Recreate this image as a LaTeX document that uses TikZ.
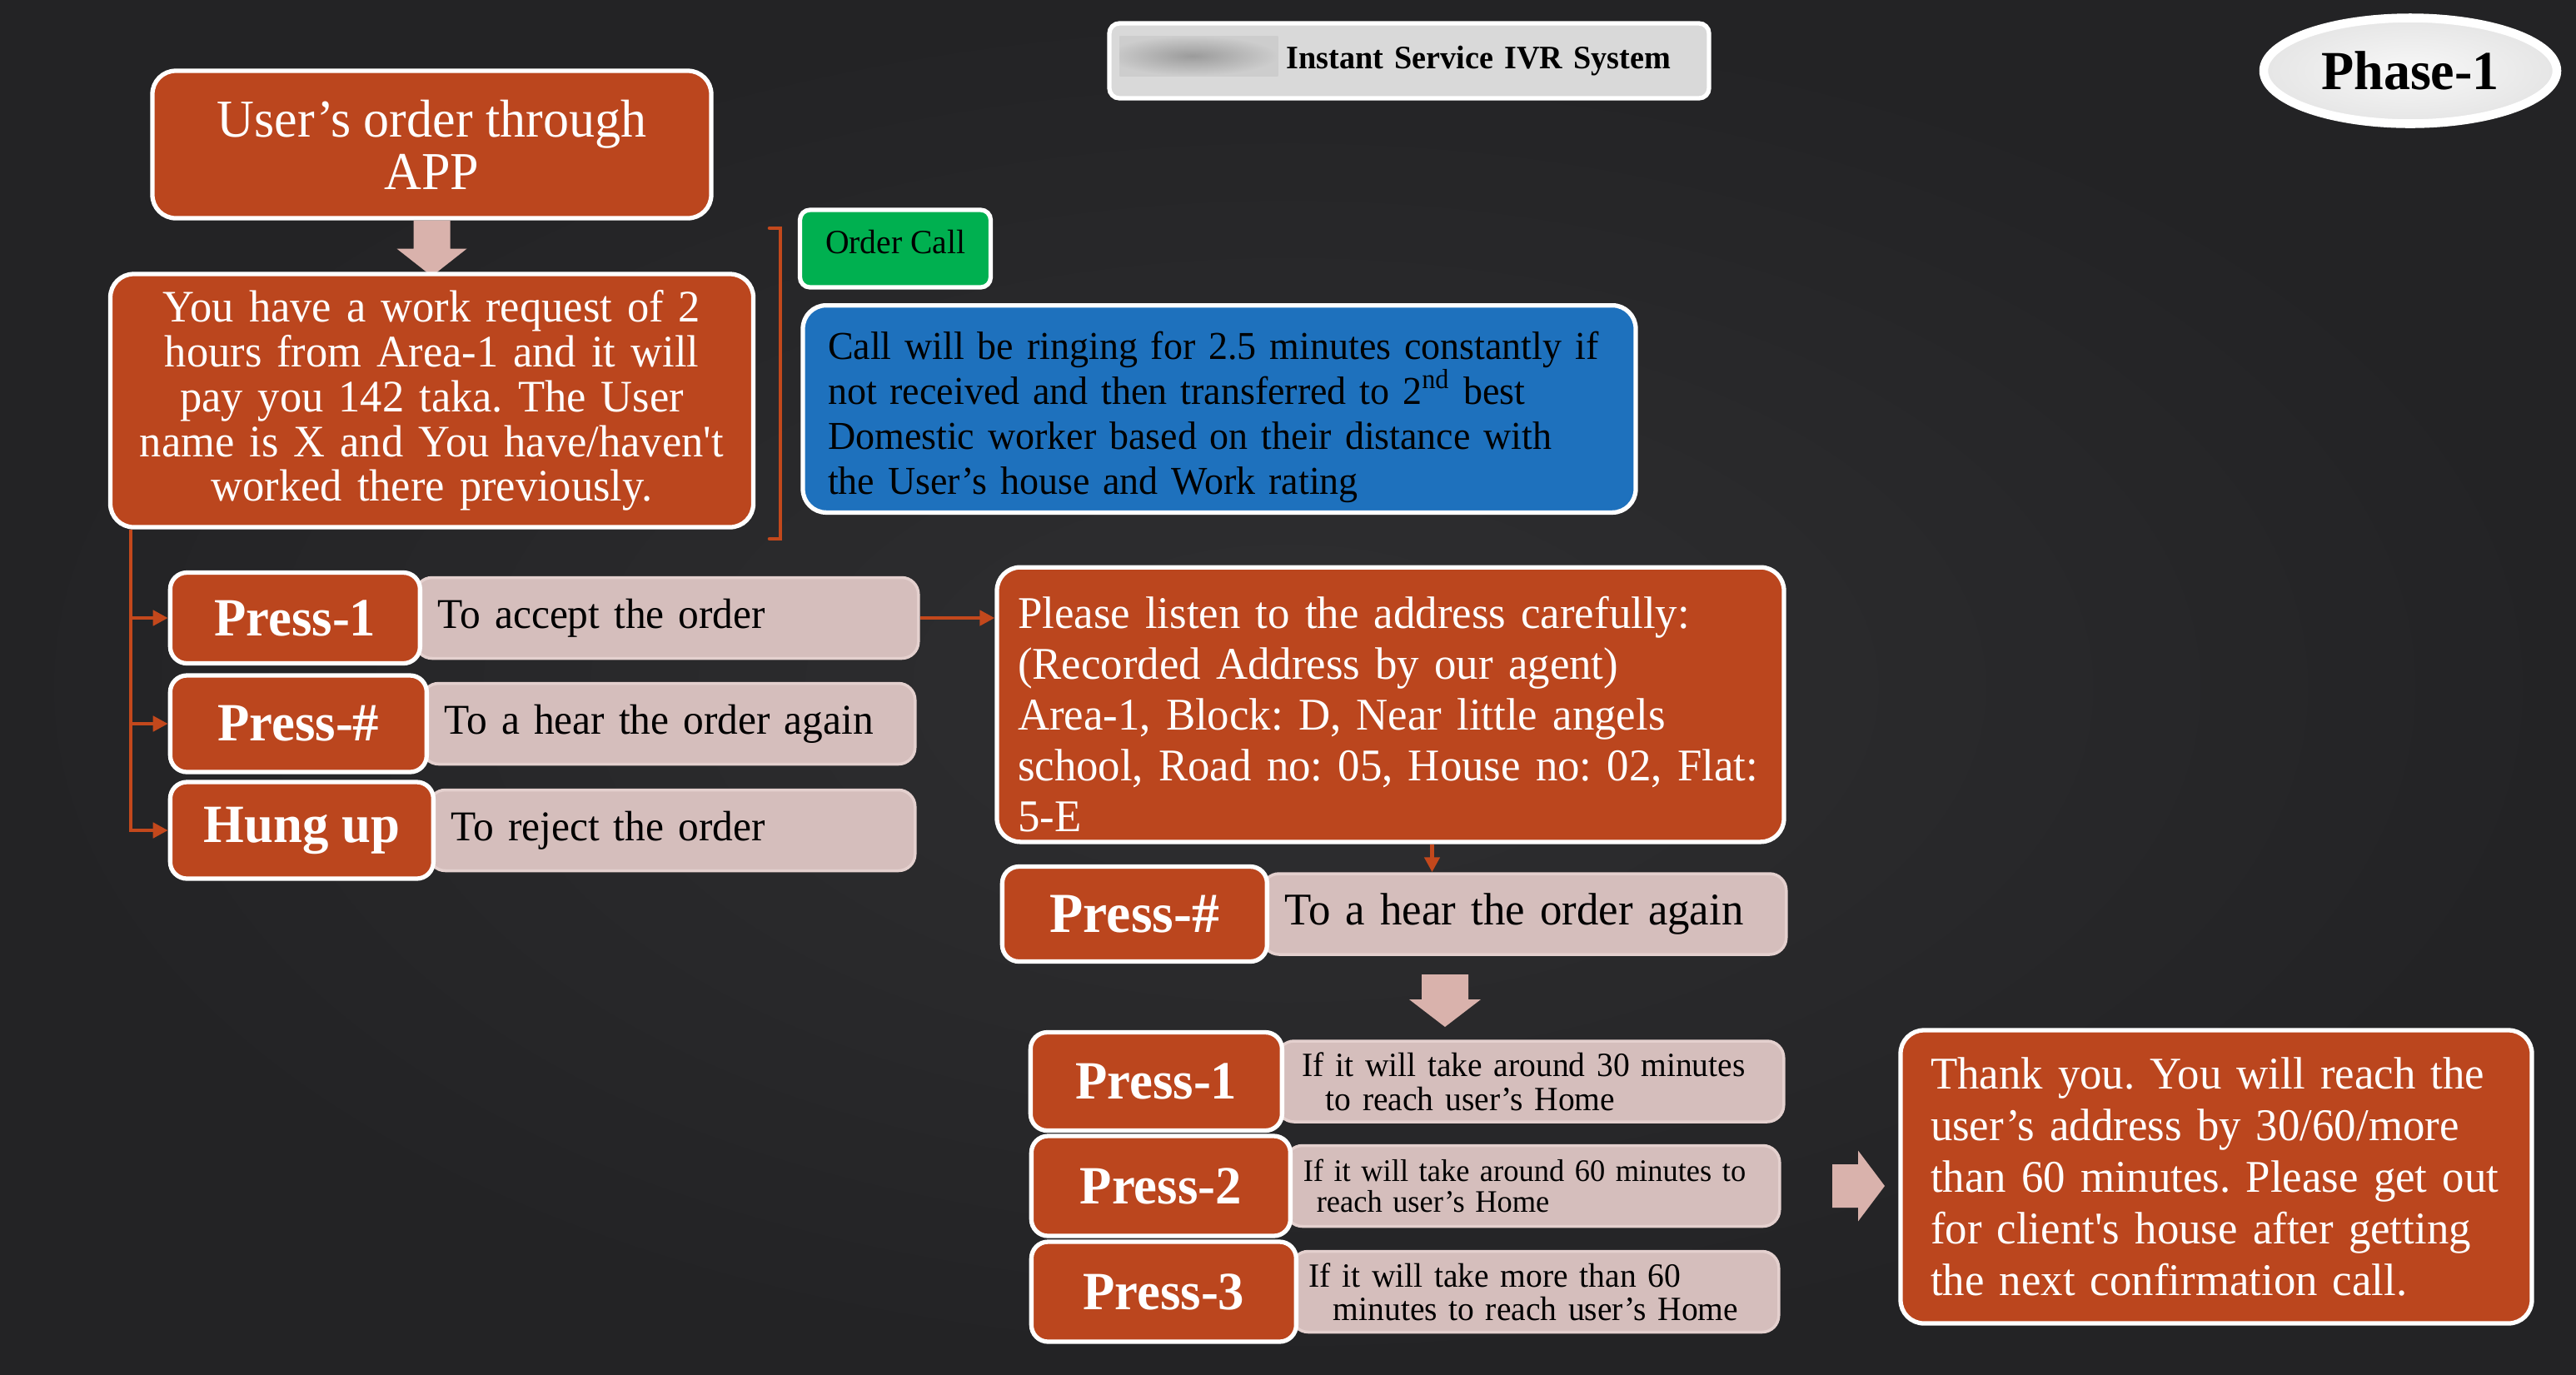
\documentclass[tikz,border=0pt]{standalone}
\usepackage{fontspec}
\setmainfont{Liberation Serif}[FakeStretch=0.97]
\usepackage{tikz}
\usetikzlibrary{arrows.meta,positioning,shapes.geometric,calc}
\definecolor{ivrbg}{RGB}{47,47,49}
\definecolor{ivrbgdark}{RGB}{35,35,37}
\definecolor{ivrorange}{RGB}{187,70,30}
\definecolor{ivrline}{RGB}{195,72,28}
\definecolor{ivrpink}{RGB}{213,190,188}
\definecolor{ivrpinkedge}{RGB}{228,208,206}
\definecolor{ivrarrow}{RGB}{217,178,172}
\definecolor{ivrgreen}{RGB}{0,176,80}
\definecolor{ivrblue}{RGB}{30,113,189}
\definecolor{ivrgray}{RGB}{217,217,217}
\definecolor{blurdark}{RGB}{155,155,155}
\definecolor{blurlight}{RGB}{205,205,205}
\newcommand{\fsz}[2]{\fontsize{#1}{#2}\selectfont}
\frenchspacing

\begin{document}
\begin{tikzpicture}[x=1cm, y=-1cm,
  orangebox/.style={draw=white, line width=1.5pt, fill=ivrorange, rounded corners=0.28cm, text=white, align=center},
  pressbox/.style={orangebox, rounded corners=0.2cm, font=\bfseries\fsz{18.4}{20}},
  pinkbox/.style={draw=ivrpinkedge, line width=1pt, fill=ivrpink, rounded corners=0.2cm, align=left, inner xsep=0.27cm, minimum height=0.97cm, anchor=west},
  conn/.style={draw=ivrline, line width=1.3pt, -{Triangle[length=1.8mm,width=1.8mm]}},
  fatarrow/.style={fill=ivrarrow}]
  % slide background
  \useasboundingbox (0,0) rectangle (30.93,16.5);
  \shade[inner color=ivrbg, outer color=ivrbgdark] (0,0) rectangle (30.93,16.5);

  % header: title bar and phase label
  \node[draw=white, line width=1.5pt, fill=ivrgray, rounded corners=0.12cm, minimum width=7.2cm, minimum height=0.9cm,
        text width=6.28cm, inner xsep=0.46cm, align=right, font=\bfseries\fsz{11.2}{13}] (title) at (16.92,0.73) {Instant Service IVR System};
  \shade[inner color=blurdark, outer color=blurlight] (title.west) ++(0.15,-0.3) rectangle ++(1.9,0.48);
  \node[ellipse, draw=white, line width=3pt, inner color=gray!6, outer color=gray!20, minimum width=3.52cm, minimum height=1.27cm,
        font=\bfseries\fsz{18.8}{20}] (phase) at (28.94,0.85) {Phase-1};

  % order from the app
  \node[orangebox, minimum width=6.71cm, minimum height=1.77cm, font=\fsz{18.2}{17.9}] (userorder) at (5.185,1.735) {User’s order through\\APP};
  \fill[fatarrow] (userorder.south) ++(-0.22,0) -- ++(0.44,0) -- ++(0,0.34) -- ++(0.2,0) -- ++(-0.42,0.33) -- ++(-0.42,-0.33) -- ++(0.2,0) -- cycle;
  \node[orangebox, minimum width=7.72cm, minimum height=3.04cm, text width=7.4cm, font=\fsz{15.4}{15.3}] (workreq) at (5.185,4.81)
    {You have a work request of 2\\hours from Area-1 and it will\\pay you 142 taka. The User\\name is X and You have/haven\textquotesingle t\\worked there previously.};

  % order call note
  \draw[ivrline, line width=1.3pt, line cap=round] (9.24,2.74) -- (9.37,2.74) -- (9.37,6.47) -- (9.24,6.47);
  \node[draw=white, line width=1.5pt, fill=ivrgreen, rounded corners=0.12cm, minimum width=2.29cm, minimum height=0.93cm,
        font=\fsz{11.6}{13}] (ordercall) at (10.75,2.985) {Order Call\rule[-4.6pt]{0pt}{4.6pt}};
  \node[draw=white, line width=1.5pt, fill=ivrblue, rounded corners=0.28cm, minimum width=10cm, minimum height=2.44cm,
        text width=9.4cm, inner xsep=0.3cm, align=left, font=\fsz{13.5}{15.4}] (ringnote) at (14.64,4.91)
    {\rule{0pt}{15pt}Call will be ringing for 2.5 minutes constantly if\\not received and then transferred to 2\textsuperscript{nd} best\\Domestic worker based on their distance with\\the User’s house and Work rating};

  % first menu
  \node[pinkbox, minimum width=6.04cm, text width=5.5cm, font=\fsz{14.5}{16}] (accept) at (4.97,7.42) {To accept the order};
  \node[pressbox, minimum width=3.0cm, minimum height=1.09cm, left=-0.1cm of accept.west] (pressone) {Press-1};
  \node[pinkbox, minimum width=5.92cm, text width=5.38cm, font=\fsz{14.5}{16}] (hear) at (5.05,8.69) {To a hear the order again};
  \node[pressbox, minimum width=3.08cm, minimum height=1.16cm, left=-0.1cm of hear.west] (presshash) {Press-\#};
  \node[pinkbox, minimum width=5.84cm, text width=5.3cm, font=\fsz{14.5}{16}] (reject) at (5.13,9.97) {To reject the order};
  \node[pressbox, minimum width=3.16cm, minimum height=1.16cm, left=-0.1cm of reject.west] (hungup) {Hung up};

  \coordinate (trunk) at ($(workreq.south west)+(0.27,0)$);
  \draw[conn] (trunk) |- (pressone.west);
  \draw[conn] (trunk) |- (presshash.west);
  \draw[conn] (trunk) |- (hungup.west);

  % address message
  \node[orangebox, minimum width=9.45cm, minimum height=3.2cm, text width=8.95cm, inner xsep=0.25cm, align=left,
        font=\fsz{15.5}{17.4}] (address) at (16.695,8.46)
    {\rule{0pt}{17.4pt}Please listen to the address carefully:\\(Recorded Address by our agent)\\Area-1, Block: D, Near little angels\\school, Road no: 05, House no: 02, Flat:\\5-E};
  \draw[conn] (accept.east) -- (accept.east -| address.west);

  \node[pinkbox, minimum width=6.29cm, text width=5.75cm, font=\fsz{15.5}{17}] (hearb) at (15.14,10.975) {To a hear the order again};
  \node[pressbox, minimum width=3.18cm, minimum height=1.14cm, font=\bfseries\fsz{19.3}{21}, left=-0.1cm of hearb.west] (pressb) {Press-\#};
  \coordinate (addrout) at ($(address.south)+(0.5,0)$);
  \draw[conn] (addrout) -- (addrout |- hearb.north);

  % travel time menu
  \coordinate (fattwo) at (17.35,11.70);
  \fill[fatarrow] (fattwo) ++(-0.28,0) -- ++(0.56,0) -- ++(0,0.30) -- ++(0.15,0) -- ++(-0.43,0.33) -- ++(-0.43,-0.33) -- ++(0.15,0) -- cycle;
  \node[pinkbox, minimum width=6.08cm, text width=5.48cm, inner xsep=0.3cm, font=\fsz{11.6}{11.7}] (thirty) at (15.32,12.985)
    {If it will take around 30 minutes\\\hspace*{0.28cm}to reach user’s Home};
  \node[pressbox, minimum width=3.02cm, minimum height=1.18cm, left=-0.1cm of thirty.west] (presst1) {Press-1};
  \node[pinkbox, minimum width=5.93cm, text width=5.51cm, inner xsep=0.21cm, font=\fsz{10.7}{10.6}] (sixty) at (15.42,14.24)
    {If it will take around 60 minutes to\\\hspace*{0.16cm}reach user’s Home};
  \node[pressbox, minimum width=3.11cm, minimum height=1.2cm, left=-0.1cm of sixty.west] (presst2) {Press-2};
  \node[pinkbox, minimum width=5.85cm, text width=5.43cm, inner xsep=0.21cm, font=\fsz{11.6}{11.4}] (more) at (15.49,15.51)
    {If it will take more than 60\\\hspace*{0.29cm}minutes to reach user’s Home};
  \node[pressbox, minimum width=3.18cm, minimum height=1.2cm, left=-0.1cm of more.west] (presst3) {Press-3};

  % closing message
  \coordinate (fatthree) at (22.00,14.24);
  \fill[fatarrow] (fatthree) ++(0,-0.26) -- ++(0.31,0) -- ++(0,-0.165) -- ++(0.32,0.425) -- ++(-0.32,0.425) -- ++(0,-0.165) -- ++(-0.31,0) -- cycle;
  \node[orangebox, minimum width=7.58cm, minimum height=3.52cm, text width=6.86cm, inner xsep=0.36cm, align=left,
        font=\fsz{15.5}{17.6}] (thanks) at (26.61,14.13)
    {Thank you. You will reach the\\user’s address by 30/60/more\\than 60 minutes. Please get out\\for client\textquotesingle s house after getting\\the next confirmation call.};
\end{tikzpicture}
\end{document}
